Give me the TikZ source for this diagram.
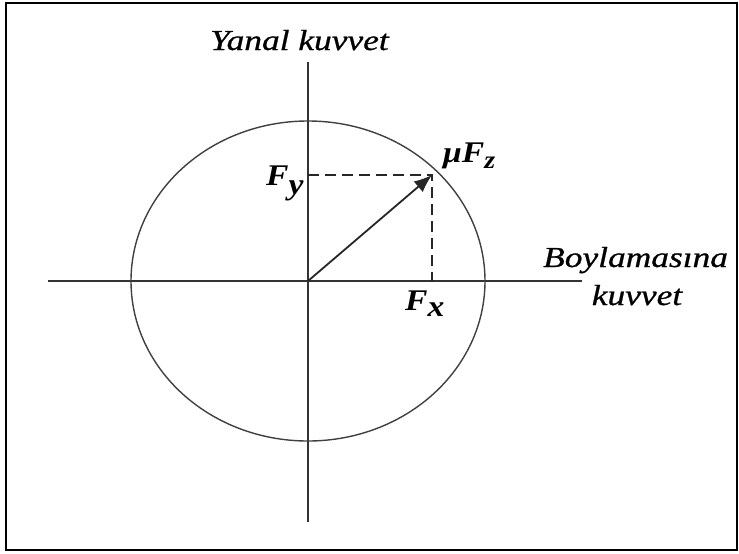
\documentclass[tikz,border=0pt]{standalone}
\usepackage{fontspec}
\setmainfont{Liberation Serif}
\newfontfamily\widefont[FakeStretch=1.22,FakeBold=0.8]{Liberation Serif}
\newfontfamily\symfont[FakeStretch=1.12]{Liberation Serif}
\usetikzlibrary{arrows.meta}
\begin{document}
\begin{tikzpicture}[x=1pt,y=-1pt,
  axis/.style={line width=1.8pt, draw=black!80},
  ell/.style={line width=1.4pt, draw=black!75},
  proj/.style={line width=1.6pt, draw=black!85, dash pattern=on 11pt off 6pt},
  vec/.style={line width=1.8pt, draw=black!85, -{Latex[length=18pt,width=14pt]}},
  lbl/.style={inner sep=0pt, anchor=base west},
  big/.style={lbl, font=\widefont\fontsize{29}{32}\selectfont\itshape},
  sym/.style={lbl, font=\symfont\fontsize{30}{34}\selectfont\bfseries\itshape}]
\useasboundingbox (0,0) rectangle (739,554);
\draw[line width=1.5pt] (6,3) rectangle (737,550);
\coordinate (O) at (308,281);
\coordinate (xl) at (48,281);
\coordinate (xr) at (582,281);
\coordinate (yt) at (308,62);
\coordinate (yb) at (308,522);
\coordinate (P) at (432,175);
\coordinate (Px) at (432,281);
\coordinate (Py) at (308,175);
\draw[axis] (xl) -- (xr);
\draw[axis] (yt) -- (yb);
\draw[ell] (O) ellipse [x radius=177, y radius=160];
\draw[proj] (Py) -- (P) -- (Px);
\draw[vec] (O) -- (P);
\node[big] (ylab) at (210,50) {Yanal kuvvet};
\node[big] (xlab1) at (543,267) {Boylamasına};
\node[big, anchor=base] (xlab2) at (637,305) {kuvvet};
\node[sym] (fy) at (266,185) {F\raisebox{-0.3em}{y}};
\node[sym] (mu) at (443,162) {μF\raisebox{-0.2em}{\fontsize{25}{28}\selectfont z}};
\node[sym] (fx) at (405,310) {F\raisebox{-0.22em}{x}};
\end{tikzpicture}
\end{document}
